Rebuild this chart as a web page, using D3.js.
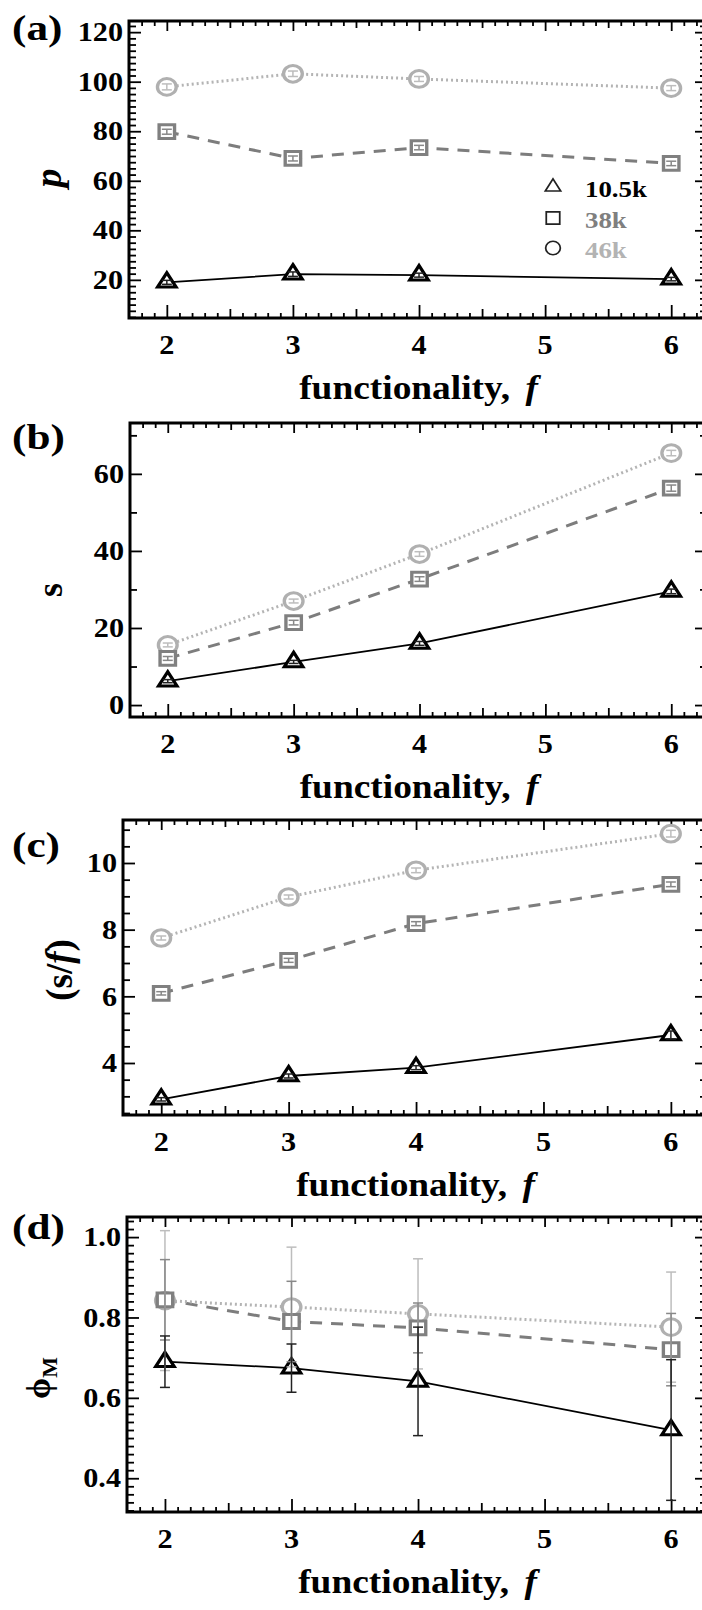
<!DOCTYPE html>
<html>
<head>
<meta charset="utf-8">
<script src="https://cdn.jsdelivr.net/npm/d3@7"></script>
<style>
  body { margin: 0; background: #fff; }
  text { font-family: "Liberation Serif", "Times New Roman", serif; font-weight: bold; }
</style>
</head>
<body>
<script>
// x values and legend
const functionality = [2, 3, 4, 6];
const seriesNames = ["10.5k", "38k", "46k"];
const xTicks = [2, 3, 4, 5, 6];

// (a) p
const p105 = [19.0, 22.3, 21.9, 20.3];
const p38 = [79.8, 69.0, 73.4, 67.0];
const p46 = [97.9, 103.2, 101.1, 97.4];
const pErr105 = [0.8, 0.9, 0.8, 0.7];
const pErr38 = [1.0, 1.0, 0.9, 0.9];
const pErr46 = [1.2, 1.1, 1.0, 1.0];
const pTicks = [20, 40, 60, 80, 100, 120];

// (b) s
const s105 = [6.2, 11.2, 16.0, 29.5];
const s38 = [12.1, 21.4, 32.7, 56.3];
const s46 = [15.6, 27.0, 39.2, 65.4];
const sErr105 = [0.4, 0.4, 0.5, 0.6];
const sErr38 = [0.5, 0.6, 0.6, 0.8];
const sErr46 = [0.5, 0.5, 0.6, 0.7];
const sTicks = [0, 20, 40, 60];

// (c) s/f
const sf105 = [2.91, 3.61, 3.86, 4.84];
const sf38 = [6.09, 7.08, 8.18, 9.36];
const sf46 = [7.75, 8.98, 9.78, 10.88];
const sfErr105 = [0.05, 0.06, 0.06, 0.12];
const sfErr38 = [0.05, 0.06, 0.06, 0.07];
const sfErr46 = [0.06, 0.06, 0.07, 0.1];
const sfTicks = [4, 6, 8, 10];

// (d) phi_M
const phi105 = [0.690, 0.674, 0.641, 0.520];
const phi38 = [0.844, 0.790, 0.774, 0.720];
const phi46 = [0.842, 0.826, 0.809, 0.776];
const phiErr105 = [0.064, 0.060, 0.135, 0.175];
const phiErr38 = [0.100, 0.100, 0.062, 0.090];
const phiErr46 = [0.174, 0.149, 0.137, 0.137];
const phiTicks = [0.4, 0.6, 0.8, 1.0];

const W = 702, H = 1610, RIGHT = 704;

const svg = d3.select("body").append("svg")
    .attr("width", W)
    .attr("height", H);

const colors = ["#000", "#7d7d7d", "#b4b4b4"];
const dashes = [null, "12,9", "2,3"];
const lineW = [1.8, 3, 3];
const shapes = [d3.symbolTriangle, d3.symbolSquare, d3.symbolCircle];
const symSizes = [118, 190, 220];

const panels = [
  {tag: "(a)", left: 129, top: 21, bottom: 318, ydom: [4.6, 124.5], ticks: pTicks, minor: 2.5,
   fmt: d3.format("d"), vals: [p105, p38, p46], errs: [pErr105, pErr38, pErr46], tagY: 40},
  {tag: "(b)", left: 130, top: 423, bottom: 717, ydom: [-3.1, 73.2], ticks: sTicks, minor: 10,
   fmt: d3.format("d"), vals: [s105, s38, s46], errs: [sErr105, sErr38, sErr46], tagY: 449},
  {tag: "(c)", left: 123, top: 820, bottom: 1115, ydom: [2.44, 11.29], ticks: sfTicks, minor: 0.5,
   fmt: d3.format("d"), vals: [sf105, sf38, sf46], errs: [sfErr105, sfErr38, sfErr46], tagY: 857},
  {tag: "(d)", left: 127, top: 1217, bottom: 1512, ydom: [0.316, 1.05], ticks: phiTicks, minor: 0.02,
   fmt: d3.format(".1f"), vals: [phi105, phi38, phi46], errs: [phiErr105, phiErr38, phiErr46], tagY: 1239}
];

function stepValues(dom, step, majors) {
  const a = Math.ceil(dom[0] / step - 1e-6), b = Math.floor(dom[1] / step + 1e-6);
  return d3.range(a, b + 1).map(k => +(k * step).toFixed(4))
    .filter(v => !majors.some(m => Math.abs(m - v) < step / 10));
}

function tickAxis(g, axis, t) {
  g.attr("transform", t).call(axis).call(s => s.select(".domain").remove());
  g.selectAll("line").attr("stroke", "#000").attr("stroke-width", 1.8);
}

function drawPanel(P, pi) {
  const x = d3.scaleLinear().domain([1.7, 6.26]).range([P.left, RIGHT]);
  const y = d3.scaleLinear().domain(P.ydom).range([P.bottom, P.top]);
  const g = svg.append("g");

  const xMinor = d3.range(18, 63).map(k => k / 10).filter(v => Math.abs(v * 2 - Math.round(v * 2)) > 0.01);
  const xMid = [2.5, 3.5, 4.5, 5.5];
  const yMinor = stepValues(P.ydom, P.minor, P.ticks);

  // bottom ticks
  tickAxis(g.append("g"), d3.axisBottom(x).tickValues(xTicks).tickSize(-13).tickFormat(""), `translate(0,${P.bottom})`);
  tickAxis(g.append("g"), d3.axisBottom(x).tickValues(xMid).tickSize(-9).tickFormat(""), `translate(0,${P.bottom})`);
  tickAxis(g.append("g"), d3.axisBottom(x).tickValues(xMinor).tickSize(-5).tickFormat(""), `translate(0,${P.bottom})`);
  // top ticks
  tickAxis(g.append("g"), d3.axisTop(x).tickValues(xTicks).tickSize(-10).tickFormat(""), `translate(0,${P.top})`);
  tickAxis(g.append("g"), d3.axisTop(x).tickValues(xMid).tickSize(-7).tickFormat(""), `translate(0,${P.top})`);
  tickAxis(g.append("g"), d3.axisTop(x).tickValues(xMinor).tickSize(-5).tickFormat(""), `translate(0,${P.top})`);
  // left ticks
  tickAxis(g.append("g"), d3.axisLeft(y).tickValues(P.ticks).tickSize(-12).tickFormat(""), `translate(${P.left},0)`);
  tickAxis(g.append("g"), d3.axisLeft(y).tickValues(yMinor).tickSize(-7).tickFormat(""), `translate(${P.left},0)`);
  // right ticks
  tickAxis(g.append("g"), d3.axisRight(y).tickValues(P.ticks).tickSize(-9).tickFormat(""), `translate(${RIGHT},0)`);
  tickAxis(g.append("g"), d3.axisRight(y).tickValues(yMinor).tickSize(-4).tickFormat(""), `translate(${RIGHT},0)`);

  // frame
  g.append("rect")
    .attr("x", P.left).attr("y", P.top)
    .attr("width", RIGHT - P.left).attr("height", P.bottom - P.top)
    .attr("fill", "none").attr("stroke", "#000").attr("stroke-width", 3);

  // tick labels
  g.selectAll(".xl").data(xTicks).join("text")
    .attr("transform", d => `translate(${x(d)},${P.bottom + 36}) scale(1.12,1)`)
    .attr("text-anchor", "middle").attr("font-size", 27)
    .text(d => d);
  g.selectAll(".yl").data(P.ticks).join("text")
    .attr("transform", d => `translate(${P.left - 6},${y(d)}) scale(1.12,1)`)
    .attr("dy", "0.34em")
    .attr("text-anchor", "end").attr("font-size", 27)
    .text(d => P.fmt(d));

  // x title
  const xt = g.append("text")
    .attr("transform", `translate(${(P.left + RIGHT) / 2 + 2},${P.bottom + 81}) scale(1.1,1)`)
    .attr("text-anchor", "middle").attr("font-size", 34);
  xt.append("tspan").text("functionality,");
  xt.append("tspan").attr("dx", 14).attr("font-style", "italic").text("f");

  // panel tag
  g.append("text")
    .attr("transform", `translate(12,${P.tagY}) scale(1.2,1)`)
    .attr("font-size", 36).text(P.tag);

  // lines
  P.vals.forEach((vals, si) => {
    const pts = functionality.map((f, i) => [f, vals[i]]);
    g.append("path")
      .datum(pts)
      .attr("fill", "none")
      .attr("stroke", colors[si])
      .attr("stroke-width", lineW[si])
      .attr("stroke-dasharray", dashes[si])
      .attr("d", d3.line().x(d => x(d[0])).y(d => y(d[1])));
  });

  // markers
  [2, 1, 0].forEach(si => {
    const vals = P.vals[si];
    g.selectAll(null).data(functionality.map((f, i) => [f, vals[i]])).join("path")
      .attr("transform", d => `translate(${x(d[0])},${y(d[1])}) scale(1.12,1)`)
      .attr("d", d3.symbol(shapes[si], symSizes[si]))
      .attr("fill", "#fff")
      .attr("stroke", si === 0 ? "#000" : (si === 1 ? "#808080" : "#b0b0b0"))
      .attr("stroke-width", 3);
  });

  // error bars
  [2, 1, 0].forEach(si => {
    const vals = P.vals[si], errs = P.errs[si];
    const col = si === 0 ? "#222" : (si === 1 ? "#888" : "#bdbdbd");
    const eg = g.append("g").attr("stroke", col).attr("stroke-width", 1.5);
    functionality.forEach((f, i) => {
      const cx = x(f), y0 = y(vals[i] - errs[i]), y1 = y(vals[i] + errs[i]);
      eg.append("line").attr("x1", cx).attr("x2", cx).attr("y1", y0).attr("y2", y1);
      eg.append("line").attr("x1", cx - 5).attr("x2", cx + 5).attr("y1", y0).attr("y2", y0);
      eg.append("line").attr("x1", cx - 5).attr("x2", cx + 5).attr("y1", y1).attr("y2", y1);
    });
  });
}

panels.forEach(drawPanel);

// y-axis titles
svg.append("text").attr("transform", "translate(61,178) rotate(-90)")
  .attr("text-anchor", "middle").attr("font-size", 38).attr("font-style", "italic").text("p");
svg.append("text").attr("transform", "translate(62,590) rotate(-90)")
  .attr("text-anchor", "middle").attr("font-size", 36).text("s");
const sfT = svg.append("text").attr("transform", "translate(72,970) rotate(-90)")
  .attr("text-anchor", "middle").attr("font-size", 37);
sfT.append("tspan").text("(s/");
sfT.append("tspan").attr("font-style", "italic").text("f");
sfT.append("tspan").text(")");
const phT = svg.append("text").attr("transform", "translate(50,1378) rotate(-90)")
  .attr("text-anchor", "middle").attr("font-size", 34);
phT.append("tspan").text("ϕ");
phT.append("tspan").attr("font-size", 22).attr("dy", 7).text("M");

// legend in panel (a)
const legY = [187, 218, 248];
const legText = ["#000", "#7f7f7f", "#b3b3b3"];
const leg = svg.append("g");
seriesNames.forEach((name, si) => {
  leg.append("path")
    .attr("transform", `translate(553,${legY[si]}) scale(1.1,1)`)
    .attr("d", d3.symbol(shapes[si], [85, 150, 140][si]))
    .attr("fill", "none").attr("stroke", "#222").attr("stroke-width", 1.6);
  leg.append("text")
    .attr("transform", `translate(585,${legY[si] + 10}) scale(1.12,1)`)
    .attr("font-size", 24).attr("fill", legText[si]).text(name);
});
</script>
</body>
</html>
